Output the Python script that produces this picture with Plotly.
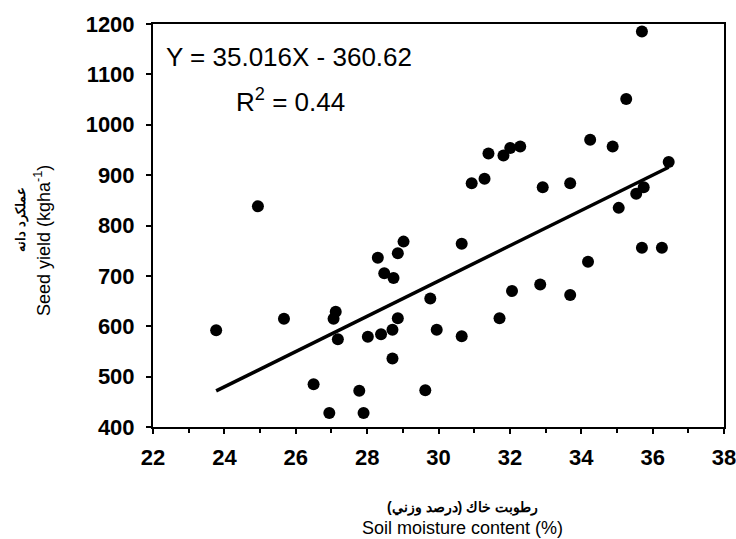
import plotly.graph_objects as go

# Data
soil_moisture = [23.77, 24.94, 25.67, 26.50, 26.94, 27.06, 27.12, 27.18, 27.78, 27.90,
                 28.02, 28.30, 28.39, 28.48, 28.71, 28.71, 28.74, 28.86, 28.86, 29.02,
                 29.63, 29.77, 29.95, 30.65, 30.65, 30.93, 31.29, 31.40, 31.71, 31.82,
                 32.01, 32.06, 32.29, 32.85, 32.92, 33.69, 33.69, 34.19, 34.25, 34.88,
                 35.05, 35.26, 35.54, 35.70, 35.70, 35.75, 36.26, 36.45]
seed_yield = [592, 838, 615, 485, 428, 615, 629, 574, 472, 428,
              579, 736, 584, 705, 593, 536, 696, 745, 616, 768,
              473, 655, 593, 764, 580, 884, 893, 943, 616, 939,
              954, 670, 957, 683, 876, 884, 662, 728, 970, 957,
              835, 1051, 863, 1185, 756, 876, 756, 926]

slope = 35.016
intercept = -360.62
x_ticks = [22, 24, 26, 28, 30, 32, 34, 36, 38]
y_ticks = [400, 500, 600, 700, 800, 900, 1000, 1100, 1200]

x_line = [min(soil_moisture), max(soil_moisture)]
y_line = [slope * v + intercept for v in x_line]

FONT = "Liberation Sans, Arial, sans-serif"

fig = go.Figure()
fig.add_trace(go.Scatter(x=soil_moisture, y=seed_yield, mode="markers",
                         marker=dict(color="black", size=12), showlegend=False))
fig.add_trace(go.Scatter(x=x_line, y=y_line, mode="lines",
                         line=dict(color="black", width=3.5), showlegend=False))

fig.update_layout(
    width=736, height=539,
    margin=dict(l=153, r=12, t=24, b=112, autoexpand=False),
    plot_bgcolor="white", paper_bgcolor="white",
    font=dict(family=FONT, color="black"),
    xaxis=dict(range=[22, 38], tickvals=x_ticks, ticks="outside", ticklen=5,
               tickwidth=1.5, tickcolor="black", automargin=False,
               ticklabeloverflow="allow",
               showline=True, linecolor="black", linewidth=2, mirror=True,
               showgrid=False, zeroline=False, ticklabelstandoff=5,
               minor=dict(dtick=1, ticks="outside", ticklen=4, tickcolor="black"),
               tickfont=dict(size=22, weight="bold", family=FONT)),
    yaxis=dict(range=[400, 1200], tickvals=y_ticks, ticks="outside", ticklen=5,
               tickwidth=1.5, tickcolor="black", automargin=False,
               ticklabeloverflow="allow",
               showline=True, linecolor="black", linewidth=2, mirror=True,
               showgrid=False, zeroline=False, ticklabelstandoff=7,
               tickfont=dict(size=22, weight="bold", family=FONT)),
)

pw, ph = 736 - 153 - 12, 539 - 24 - 112


def px(xp, yp):
    return (xp - 153) / pw, 1 - (yp - 24) / ph


ann = []
for text, (xp, yp) in [("Y = 35.016X - 360.62", (289, 57)),
                       ("R<sup>2</sup> = 0.44", (290, 100))]:
    x, y = px(xp, yp)
    ann.append(dict(text=text, xref="paper", yref="paper", x=x, y=y,
                    xanchor="center", yanchor="middle", showarrow=False,
                    font=dict(size=26, family=FONT)))

x, y = px(462, 507)
ann.append(dict(text="<b>رطوبت خاك (درصد وزني)</b>", xref="paper", yref="paper",
                x=x, y=y, xanchor="center", yanchor="middle", showarrow=False,
                font=dict(size=14)))
x, y = px(462, 528)
ann.append(dict(text="Soil moisture content (%)", xref="paper", yref="paper",
                x=x, y=y, xanchor="center", yanchor="middle", showarrow=False,
                font=dict(size=18, family=FONT)))
x, y = px(21, 220)
ann.append(dict(text="<b>عملكرد دانه</b>", xref="paper", yref="paper", textangle=-90,
                x=x, y=y, xanchor="center", yanchor="middle", showarrow=False,
                font=dict(size=13)))
x, y = px(42, 241)
ann.append(dict(text="Seed yield (kgha<sup>-1</sup>)", xref="paper", yref="paper",
                textangle=-90, x=x, y=y, xanchor="center", yanchor="middle",
                showarrow=False, font=dict(size=18, family=FONT)))
fig.update_layout(annotations=ann)

fig.write_html("out.html", config={"displayModeBar": False},
               post_script="document.body.style.margin='0';"
                           "document.body.style.overflow='hidden';")
